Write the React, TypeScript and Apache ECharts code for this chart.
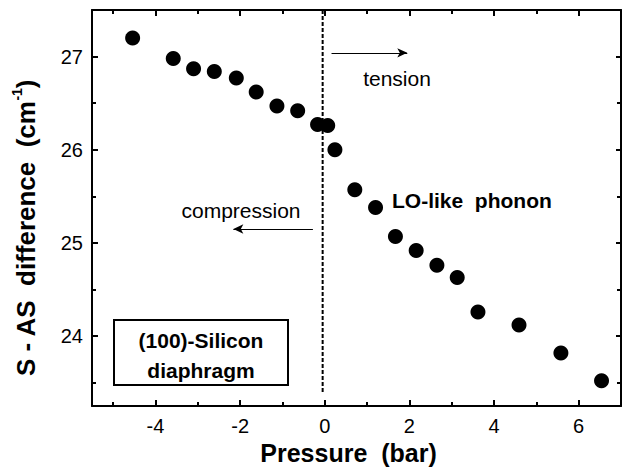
import React, { useEffect, useRef } from "react";
import * as echarts from "echarts";

const pressure = [-4.54, -3.58, -3.1, -2.61, -2.09, -1.62, -1.13, -0.64, -0.17, 0.07, 0.24, 0.71, 1.2, 1.67, 2.16, 2.65, 3.13, 3.62, 4.59, 5.58, 6.54];
const difference = [27.2, 26.98, 26.87, 26.84, 26.77, 26.62, 26.47, 26.42, 26.27, 26.26, 26.0, 25.57, 25.38, 25.07, 24.92, 24.76, 24.63, 24.26, 24.12, 23.82, 23.52];

const xMajor = [-4, -2, 0, 2, 4, 6];
const xMinor = [-5, -3, -1, 1, 3, 5];
const yMajor = [24, 25, 26, 27];
const yMinor = [23.5, 24.5, 25.5, 26.5];

const zeroLineX = [-0.05, -0.05];
const zeroLineY = [27.5, 23.4];

const tensionArrow = { x0: 0.16, x1: 1.95, y: 27.04 };
const compressionArrow = { x0: -0.28, x1: -2.16, y: 25.15 };

const FONT = "'Liberation Sans', Arial, Helvetica, sans-serif";

export default function App() {
  const ref = useRef<HTMLDivElement>(null);
  useEffect(() => {
    if (!ref.current) return;
    const chart = echarts.init(ref.current, null, { renderer: "svg" });
    const lineStyle = { color: "#000", width: 2 };
    const mkX = (position: string, ticks: number[], len: number, showLine: boolean, labels: boolean, extra: any = {}) => ({
      type: "value",
      position,
      min: -5.5,
      max: 7,
      axisLine: { show: showLine, onZero: false, lineStyle },
      axisTick: { show: true, inside: true, length: len, customValues: ticks, lineStyle },
      axisLabel: labels
        ? { show: true, customValues: ticks, fontSize: 20, color: "#000", margin: 10, fontFamily: FONT }
        : { show: false },
      splitLine: { show: false },
      ...extra,
    });
    const mkY = (position: string, ticks: number[], len: number, showLine: boolean, labels: boolean, extra: any = {}) => ({
      type: "value",
      position,
      min: 23.25,
      max: 27.5,
      axisLine: { show: showLine, onZero: false, lineStyle },
      axisTick: { show: true, inside: true, length: len, customValues: ticks, lineStyle },
      axisLabel: labels
        ? { show: true, customValues: ticks, fontSize: 20, color: "#000", margin: 9, fontFamily: FONT }
        : { show: false },
      splitLine: { show: false },
      ...extra,
    });
    const option: any = {
      animation: false,
      backgroundColor: "#fff",
      grid: { left: 92, right: 1, top: 10, bottom: 68 },
      xAxis: [
        mkX("bottom", xMajor, 6, true, true, {
          name: "Pressure  (bar)",
          nameLocation: "middle",
          nameGap: 32,
          nameTextStyle: { fontSize: 25, fontWeight: "bold", color: "#000", fontFamily: FONT, padding: [0, 16, 0, 0] },
        }),
        mkX("bottom", xMinor, 4, false, false),
        mkX("top", xMajor, 6, true, false),
        mkX("top", xMinor, 4, false, false),
      ],
      yAxis: [
        mkY("left", yMajor, 6, true, true, {
          name: "{b|S - AS  difference  (cm}{s|-1}{b|)}",
          nameLocation: "middle",
          nameGap: 51,
          nameTextStyle: {
            color: "#000",
            padding: [0, 40, 0, 0],
            rich: {
              b: { fontSize: 26, fontWeight: "bold", fontFamily: FONT, color: "#000", lineHeight: 31 },
              s: { fontSize: 14, fontWeight: "bold", fontFamily: FONT, color: "#000", verticalAlign: "top", lineHeight: 22 },
            },
          },
        }),
        mkY("left", yMinor, 4, false, false),
        mkY("right", yMajor, 5, true, false),
        mkY("right", yMinor, 4, false, false),
      ],
      series: [
        {
          type: "line",
          data: zeroLineX.map((x, i) => [x, zeroLineY[i]]),
          symbol: "none",
          lineStyle: { color: "#000", width: 2, type: [4, 2] },
          silent: true,
          z: 1,
          markLine: {
            silent: true,
            symbol: ["none", "arrow"],
            symbolSize: [7, 10],
            label: { show: false },
            lineStyle: { color: "#000", width: 1, type: "solid" },
            data: [
              [{ coord: [tensionArrow.x0, tensionArrow.y] }, { coord: [tensionArrow.x1, tensionArrow.y] }],
              [{ coord: [compressionArrow.x0, compressionArrow.y] }, { coord: [compressionArrow.x1, compressionArrow.y] }],
            ],
          },
        },
        {
          type: "scatter",
          data: pressure.map((x, i) => [x, difference[i]]),
          symbol: "circle",
          symbolSize: 15,
          itemStyle: { color: "#000", opacity: 1 },
          z: 3,
        },
      ],
      graphic: [
        { type: "text", x: 397, y: 78, style: { text: "tension", fontSize: 21, fontFamily: FONT, fill: "#000", textAlign: "center", textVerticalAlign: "middle" } },
        { type: "text", x: 241, y: 210, style: { text: "compression", fontSize: 21, fontFamily: FONT, fill: "#000", textAlign: "center", textVerticalAlign: "middle" } },
        { type: "text", x: 392, y: 200, style: { text: "LO-like  phonon", fontSize: 21, fontWeight: "bold", fontFamily: FONT, fill: "#000", textAlign: "left", textVerticalAlign: "middle" } },
        { type: "rect", shape: { x: 114, y: 320, width: 174, height: 65 }, style: { fill: "#fff", stroke: "#000", lineWidth: 2 }, z: 10 },
        { type: "text", x: 201, y: 340, z: 11, style: { text: "(100)-Silicon", fontSize: 21, fontWeight: "bold", fontFamily: FONT, fill: "#000", textAlign: "center", textVerticalAlign: "middle" } },
        { type: "text", x: 201, y: 370, z: 11, style: { text: "diaphragm", fontSize: 21, fontWeight: "bold", fontFamily: FONT, fill: "#000", textAlign: "center", textVerticalAlign: "middle" } },
      ],
    };
    chart.setOption(option);
    return () => chart.dispose();
  }, []);
  return <div ref={ref} style={{ width: 622, height: 474, position: "absolute", left: 0, top: 0 }} />;
}
